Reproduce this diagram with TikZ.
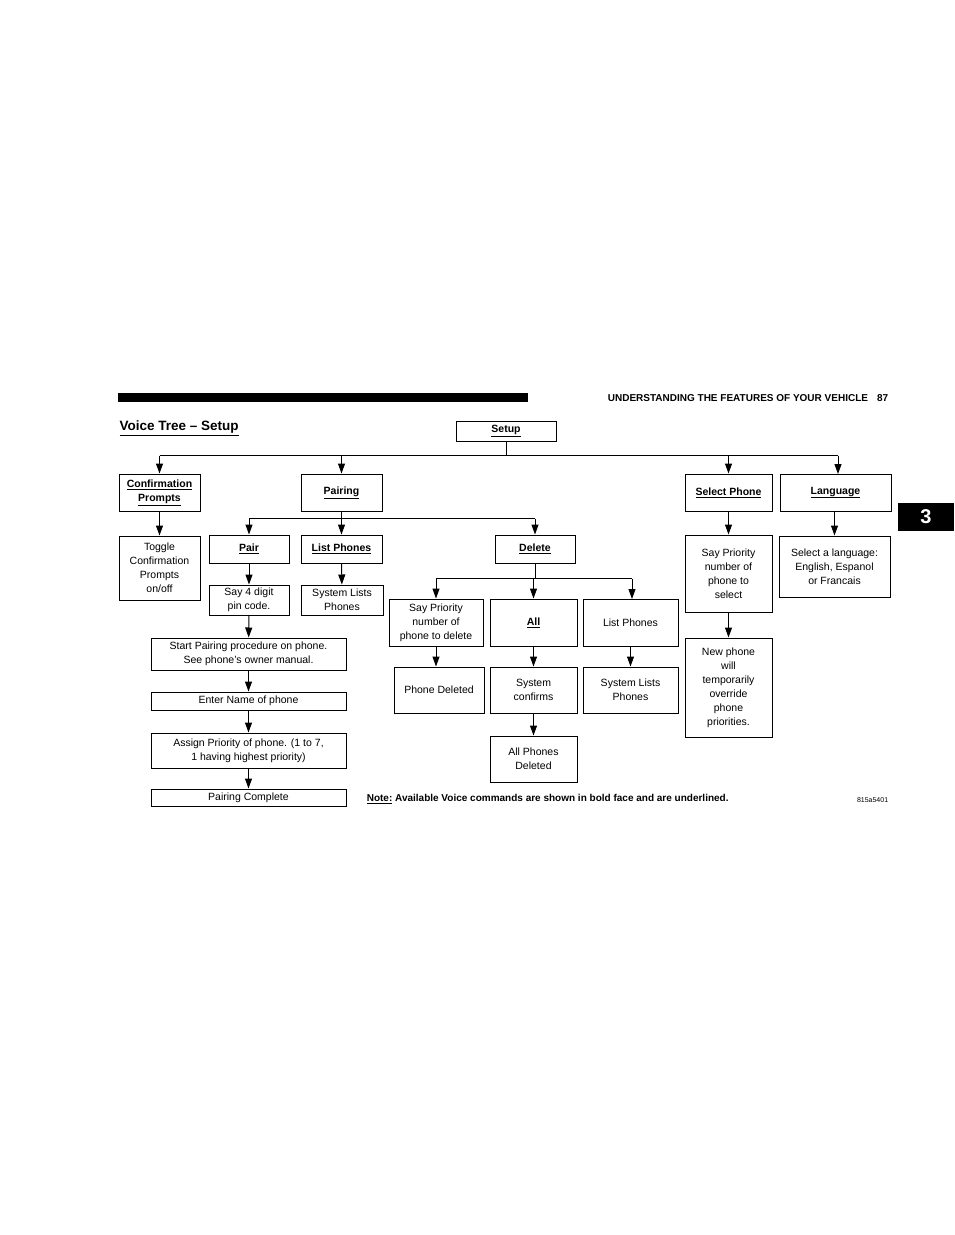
\documentclass[tikz,border=0pt]{standalone}
\usepackage{fontspec}
\setmainfont{Liberation Sans}
\usetikzlibrary{arrows.meta}
\tikzstyle{blk}=[draw=black, line width=1pt, inner sep=1pt, align=center,% plain box of the tree
font=\fontsize{10.5}{14}\selectfont]
\tikzstyle{cmd}=[blk, font=\fontsize{10.5}{14}\selectfont\bfseries]
\tikzstyle{dgraph}=[-{Triangle[length=10pt,width=7pt]}, line width=1pt]
\newcommand{\cmdtxt}[1]{\underline{#1}}

\begin{document}
\begin{tikzpicture}[x=1pt,y=-1pt,line width=1pt]
\useasboundingbox (0,0) rectangle (954,1235);
% header
\fill (118,393) rectangle (528,402);
\node[anchor=east, font=\fontsize{10}{12}\selectfont\bfseries] (head) at (892,398) {UNDERSTANDING THE FEATURES OF YOUR VEHICLE\hspace{9pt}87};
\fill (898,503) rectangle (954,531);
\node[text=white, font=\fontsize{20}{20}\selectfont\bfseries] (tab) at (926,517) {3};
\node[anchor=west, font=\fontsize{13.5}{16}\selectfont\bfseries, inner sep=0pt] (title) at (119,428) {\underline{Voice Tree – Setup}};

% level 1
\node[cmd, minimum width=100pt, minimum height=20pt] (setup) at (506,431) {\cmdtxt{Setup}};
\node[cmd, minimum width=81pt, minimum height=37pt] (conf) at (159.5,492.5) {\cmdtxt{Confirmation}\\\cmdtxt{Prompts}};
\node[cmd, minimum width=81pt, minimum height=37pt] (pairing) at (341.5,492.5) {\cmdtxt{Pairing}};
\node[cmd, minimum width=87pt, minimum height=37pt] (select) at (728.5,492.5) {\cmdtxt{Select Phone}};
\node[cmd, minimum width=111pt, minimum height=37pt] (lang) at (835.5,492.5) {\cmdtxt{Language}};

% level 2
\node[blk, minimum width=81pt, minimum height=64pt] (toggle) at (159.5,568) {Toggle\\Confirmation\\Prompts\\on/off};
\node[cmd, minimum width=80pt, minimum height=28pt] (pair) at (249,549) {\cmdtxt{Pair}};
\node[cmd, minimum width=81pt, minimum height=28pt] (list) at (341.5,549) {\cmdtxt{List Phones}};
\node[cmd, minimum width=80pt, minimum height=28pt] (delete) at (535,549) {\cmdtxt{Delete}};
\node[blk, minimum width=87pt, minimum height=77pt] (saysel) at (728.5,573.5) {Say Priority\\number of\\phone to\\select};
\node[blk, minimum width=111pt, minimum height=61pt] (sellang) at (834.5,566.5) {Select a language:\\English, Espanol\\or Francais};

% level 3
\node[blk, minimum width=80pt, minimum height=30pt] (pin) at (249,600) {Say 4 digit\\pin code.};
\node[blk, minimum width=82pt, minimum height=30pt] (syslist) at (342,600) {System Lists\\Phones};
\node[blk, minimum width=94pt, minimum height=47pt] (saydel) at (436,622.5) {Say Priority\\number of\\phone to delete};
\node[cmd, minimum width=87pt, minimum height=47pt] (all) at (533.5,622.5) {\cmdtxt{All}};
\node[blk, minimum width=95pt, minimum height=47pt] (listb) at (630.5,622.5) {List Phones};
\node[blk, minimum width=87pt, minimum height=99pt] (newph) at (728.5,687.5) {New phone\\will\\temporarily\\override\\phone\\priorities.};

% pairing steps
\node[blk, minimum width=195pt, minimum height=32pt] (start) at (248.5,654) {Start Pairing procedure on phone.\\See phone's owner manual.};
\node[blk, minimum width=195pt, minimum height=18pt] (name) at (248.5,701) {Enter Name of phone};
\node[blk, minimum width=195pt, minimum height=35pt] (prio) at (248.5,750.5) {Assign Priority of phone. (1 to 7,\\1 having highest priority)};
\node[blk, minimum width=195pt, minimum height=17pt] (done) at (248.5,797.5) {Pairing Complete};

% delete results
\node[blk, minimum width=90pt, minimum height=46pt] (deleted) at (439,690) {Phone Deleted};
\node[blk, minimum width=87pt, minimum height=46pt] (confirm) at (533.5,690) {System\\confirms};
\node[blk, minimum width=95pt, minimum height=46pt] (syslistb) at (630.5,690) {System Lists\\Phones};
\node[blk, minimum width=87pt, minimum height=46pt] (alldel) at (533.5,759) {All Phones\\Deleted};

% note
\node[anchor=west, font=\fontsize{10}{12}\selectfont\bfseries] (note) at (363,799) {\underline{Note:} Available Voice commands are shown in bold face and are underlined.};
\node[anchor=east, font=\fontsize{7}{8}\selectfont] (code) at (892,800) {815a5401};

% setup bus
\draw (setup.south) -- ++(0,14) coordinate (sbus);
\draw (sbus -| conf.north) -- (sbus -| 838,0);
\draw [dgraph] (sbus -| conf.north) -- (conf.north);
\draw [dgraph] (sbus -| pairing.north) -- (pairing.north);
\draw [dgraph] (sbus -| select.north) -- (select.north);
\draw [dgraph] (sbus -| 838,0) -- (838,474);

% pairing bus
\draw (pairing.south) -- ++(0,7) coordinate (pbus);
\draw (pbus -| pair.north) -- (pbus -| delete.north);
\draw [dgraph] (pbus -| pair.north) -- (pair.north);
\draw [dgraph] (pbus -| list.north) -- (list.north);
\draw [dgraph] (pbus -| delete.north) -- (delete.north);

% delete bus
\draw (delete.south) -- ++(0,15) coordinate (dbus);
\draw (dbus -| saydel.north) -- (dbus -| 632,0);
\draw [dgraph] (dbus -| saydel.north) -- (saydel.north);
\draw [dgraph] (dbus -| all.north) -- (all.north);
\draw [dgraph] (dbus -| 632,0) -- (632,599);

\draw [dgraph] (conf) -- (toggle);
\draw [dgraph] (select) -- (saysel);
\draw [dgraph] (lang.south -| sellang.north) -- (sellang.north);
\draw [dgraph] (pair) -- (pin);
\draw [dgraph] (list) -- (syslist);
\draw [dgraph] (saysel) -- (newph);
\draw [dgraph] (pin) -- (start);
\draw [dgraph] (start) -- (name);
\draw [dgraph] (name) -- (prio);
\draw [dgraph] (prio) -- (done);
\draw [dgraph] (saydel.south) -- (saydel.south |- deleted.north);
\draw [dgraph] (all) -- (confirm);
\draw [dgraph] (listb.south) -- (listb.south |- syslistb.north);
\draw [dgraph] (confirm) -- (alldel);
\end{tikzpicture}
\end{document}
